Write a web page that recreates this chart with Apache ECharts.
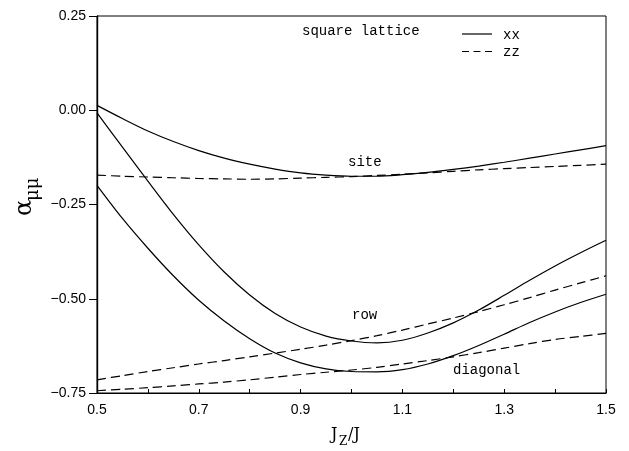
<!DOCTYPE html>
<html>
<head>
<meta charset="utf-8">
<script src="https://cdn.jsdelivr.net/npm/echarts@6/dist/echarts.min.js"></script>
<style>html,body{margin:0;padding:0;background:#fff;}#c{width:629px;height:451px;}</style>
</head>
<body>
<div id="c"></div>
<script>
const xValues = [0.5,0.55,0.6,0.65,0.7,0.75,0.8,0.85,0.9,0.95,1.0,1.05,1.1,1.15,1.2,1.25,1.3,1.35,1.4,1.45,1.5];
const siteXX = [0.013,-0.022,-0.055,-0.083,-0.107,-0.127,-0.143,-0.156,-0.166,-0.172,-0.175,-0.175,-0.171,-0.165,-0.157,-0.148,-0.138,-0.127,-0.116,-0.105,-0.094];
const siteZZ = [-0.172,-0.175,-0.177,-0.179,-0.181,-0.182,-0.183,-0.182,-0.180,-0.178,-0.176,-0.173,-0.170,-0.166,-0.162,-0.158,-0.155,-0.152,-0.149,-0.146,-0.143];
const rowXX = [-0.007,-0.098,-0.188,-0.276,-0.357,-0.429,-0.490,-0.539,-0.575,-0.599,-0.612,-0.617,-0.610,-0.591,-0.564,-0.530,-0.491,-0.451,-0.413,-0.378,-0.345];
const rowZZ = [-0.715,-0.704,-0.693,-0.683,-0.673,-0.664,-0.654,-0.644,-0.634,-0.623,-0.611,-0.598,-0.583,-0.567,-0.551,-0.534,-0.516,-0.497,-0.477,-0.458,-0.439];
const diagXX = [-0.199,-0.287,-0.366,-0.439,-0.504,-0.559,-0.606,-0.644,-0.670,-0.686,-0.693,-0.694,-0.688,-0.673,-0.651,-0.624,-0.594,-0.563,-0.535,-0.510,-0.488];
const diagZZ = [-0.744,-0.740,-0.736,-0.731,-0.726,-0.721,-0.715,-0.708,-0.701,-0.695,-0.689,-0.682,-0.673,-0.664,-0.654,-0.643,-0.631,-0.619,-0.608,-0.600,-0.592];
const yTicks = [0.25, 0.00, -0.25, -0.50, -0.75];
const legendNames = ['xx', 'zz'];
const curveLabels = ['square lattice', 'site', 'row', 'diagonal'];

const pts = arr => xValues.map((x, i) => [x, arr[i]]);
const serif = '"DejaVu Serif", "Liberation Serif", serif';
const mono = '"Liberation Mono", "Courier New", monospace';
const sans = '"Liberation Sans", Arial, sans-serif';
const solid = { color: '#000', width: 1.2, type: 'solid' };
const dashed = { color: '#000', width: 1.2, type: [9, 5] };
const mk = (name, arr, ls) => ({
  name: name, type: 'line', data: pts(arr), smooth: 0.3, symbol: 'none', showSymbol: false,
  lineStyle: ls, itemStyle: { color: '#000' }, emphasis: { disabled: true }, z: 3
});

const chart = echarts.init(document.getElementById('c'), null, { renderer: 'canvas' });
chart.setOption({
  animation: false,
  backgroundColor: '#fff',
  grid: { left: 97, right: 23, top: 16, bottom: 58, show: true, borderColor: '#000', borderWidth: 1 },
  xAxis: {
    type: 'value', min: 0.5, max: 1.5, interval: 0.1,
    axisLine: { show: true, onZero: false, lineStyle: { color: '#000', width: 1.2 } },
    axisTick: { show: true, inside: true, length: 4, lineStyle: { color: '#000' } },
    axisLabel: { color: '#000', fontFamily: sans, fontSize: 14, margin: 10,
      formatter: v => { const k = Math.round(v * 10); return k % 2 === 1 ? (k / 10).toFixed(1) : ''; } },
    splitLine: { show: false }
  },
  yAxis: {
    type: 'value', min: yTicks[yTicks.length - 1], max: yTicks[0], interval: 0.25,
    axisLine: { show: true, onZero: false, lineStyle: { color: '#000', width: 1.4 } },
    axisTick: { show: true, inside: false, length: 8, lineStyle: { color: '#000' } },
    axisLabel: { color: '#000', fontFamily: sans, fontSize: 14, margin: 11,
      formatter: v => v.toFixed(2).replace('-', '\u2212') },
    splitLine: { show: false }
  },
  series: [
    mk('xx', siteXX, solid), mk('zz', siteZZ, dashed),
    mk('xx', rowXX, solid), mk('zz', rowZZ, dashed),
    mk('xx', diagXX, solid), mk('zz', diagZZ, dashed)
  ],
  graphic: [
    { type: 'line', shape: { x1: 462, y1: 34, x2: 492, y2: 34 }, style: { stroke: '#000', lineWidth: 1.2 } },
    { type: 'line', shape: { x1: 462, y1: 51.5, x2: 492, y2: 51.5 }, style: { stroke: '#000', lineWidth: 1.2, lineDash: [7, 4.5] } },
    { type: 'text', x: 503, y: 35, style: { text: legendNames[0], font: '14px ' + mono, fill: '#000', verticalAlign: 'middle' } },
    { type: 'text', x: 503, y: 52, style: { text: legendNames[1], font: '14px ' + mono, fill: '#000', verticalAlign: 'middle' } },
    { type: 'text', x: 302, y: 31, style: { text: curveLabels[0], font: '14px ' + mono, fill: '#000', verticalAlign: 'middle' } },
    { type: 'text', x: 348, y: 162, style: { text: curveLabels[1], font: '14px ' + mono, fill: '#000', verticalAlign: 'middle' } },
    { type: 'text', x: 352, y: 315, style: { text: curveLabels[2], font: '14px ' + mono, fill: '#000', verticalAlign: 'middle' } },
    { type: 'text', x: 453, y: 370, style: { text: curveLabels[3], font: '14px ' + mono, fill: '#000', verticalAlign: 'middle' } },
    { type: 'group', x: 25, y: 216, rotation: Math.PI / 2, children: [
      { type: 'text', x: 0, y: 0, style: { text: '\u03b1', font: '24px ' + serif, fill: '#000', verticalAlign: 'middle', align: 'left' } },
      { type: 'text', x: 15, y: 8, style: { text: '\u03bc\u03bc', font: '18px ' + serif, fill: '#000', verticalAlign: 'middle', align: 'left' } }
    ]},
    { type: 'group', x: 331, y: 435, children: [
      { type: 'text', x: 0, y: 0, style: { text: 'J', font: '16px ' + serif, fill: '#000', verticalAlign: 'middle', align: 'left' } },
      { type: 'text', x: 8, y: 7, style: { text: 'Z', font: '12px ' + serif, fill: '#000', verticalAlign: 'middle', align: 'left' } },
      { type: 'text', x: 17, y: 0, style: { text: '/J', font: '16px ' + serif, fill: '#000', verticalAlign: 'middle', align: 'left' } }
    ]}
  ]
});
</script>
</body>
</html>
